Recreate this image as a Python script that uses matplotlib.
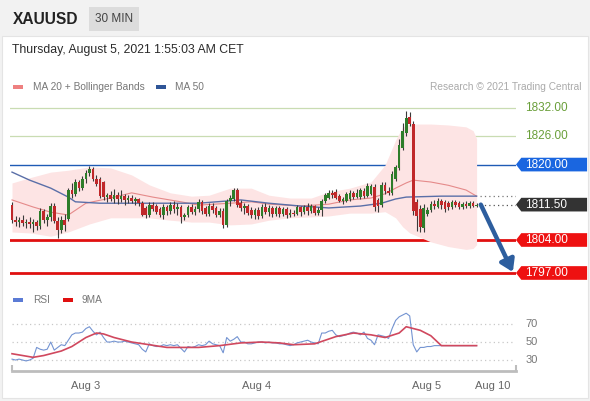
import matplotlib.pyplot as plt
from matplotlib.patches import Polygon, Rectangle
from matplotlib.transforms import blended_transform_factory
import numpy as np

plt.rcParams['font.family'] = ['Liberation Sans', 'DejaVu Sans']

# --- candle data (30 min bars) ---
opens = [1811.4, 1808.3, 1807.8, 1808.3, 1807.6, 1807.9, 1807.3, 1807.8, 1807.0, 1810.2,
         1808.2, 1808.8, 1811.2, 1808.0, 1806.2, 1808.3, 1808.5, 1814.5, 1813.8, 1816.3,
         1815.0, 1817.0, 1818.2, 1819.0, 1817.0, 1817.0, 1816.2, 1813.2, 1813.6, 1812.8,
         1813.5, 1812.6, 1813.3, 1812.5, 1813.0, 1812.3, 1812.8, 1811.8, 1810.8, 1809.2,
         1811.4, 1811.2, 1810.6, 1809.2, 1811.0, 1810.2, 1811.4, 1810.6, 1811.0, 1808.8,
         1809.3, 1811.0, 1810.0, 1810.6, 1812.0, 1810.8, 1809.5, 1811.3, 1810.8, 1809.3,
         1810.2, 1807.2, 1812.3, 1812.8, 1814.5, 1811.8, 1810.8, 1811.2, 1810.4, 1809.2,
         1810.4, 1809.0, 1811.0, 1810.0, 1810.8, 1809.5, 1810.7, 1809.6, 1810.5, 1809.3,
         1809.8, 1809.6, 1810.9, 1809.9, 1811.0, 1810.2, 1811.2, 1809.8, 1810.4, 1812.3,
         1813.0, 1814.0, 1814.2, 1813.4, 1812.3, 1812.3, 1812.6, 1814.0, 1813.2, 1813.2,
         1814.4, 1813.4, 1813.8, 1815.3, 1812.5, 1811.4, 1815.6, 1814.4, 1814.0, 1817.0,
         1819.3, 1823.5, 1826.7, 1830.0, 1828.6, 1812.0, 1810.6, 1806.6, 1809.5, 1810.4,
         1811.6, 1811.0, 1812.3, 1812.0, 1811.8, 1811.0, 1812.0, 1811.8, 1811.0, 1811.6,
         1811.2, 1811.8, 1811.3]
highs = [1812.0, 1809.0, 1808.8, 1809.2, 1808.5, 1808.8, 1808.5, 1808.3, 1810.8, 1810.6,
         1809.5, 1811.8, 1811.9, 1808.8, 1809.0, 1809.5, 1815.0, 1816.0, 1817.0, 1816.8,
         1817.5, 1818.8, 1819.6, 1819.4, 1817.8, 1817.3, 1816.5, 1814.0, 1814.3, 1814.8,
         1814.2, 1814.5, 1813.8, 1813.6, 1813.5, 1813.2, 1813.0, 1812.2, 1811.3, 1812.0,
         1812.0, 1811.6, 1811.0, 1811.6, 1811.5, 1812.0, 1812.2, 1811.8, 1811.5, 1809.8,
         1811.5, 1811.6, 1811.2, 1812.6, 1812.4, 1811.2, 1811.8, 1811.9, 1811.2, 1810.8,
         1810.8, 1812.8, 1813.6, 1815.0, 1815.0, 1812.5, 1811.8, 1811.6, 1810.9, 1810.8,
         1811.0, 1811.6, 1811.8, 1811.5, 1811.2, 1811.3, 1811.2, 1811.0, 1810.9, 1810.5,
         1810.3, 1811.4, 1811.2, 1811.5, 1811.8, 1811.6, 1811.5, 1811.0, 1812.8, 1814.0,
         1814.5, 1814.6, 1814.9, 1813.8, 1813.2, 1814.2, 1814.6, 1814.4, 1814.8, 1815.0,
         1815.0, 1816.0, 1815.8, 1815.8, 1813.0, 1816.3, 1816.2, 1815.2, 1818.6, 1820.0,
         1825.5, 1828.8, 1831.3, 1831.2, 1829.2, 1812.6, 1811.5, 1811.6, 1811.0, 1812.2,
         1812.4, 1813.0, 1812.8, 1812.4, 1812.2, 1812.4, 1812.4, 1812.3, 1812.0, 1812.2,
         1812.3, 1812.2, 1811.9]
lows = [1807.6, 1807.0, 1806.8, 1807.0, 1806.5, 1806.6, 1805.8, 1806.2, 1806.4, 1807.5,
        1807.0, 1808.0, 1807.5, 1804.4, 1805.5, 1806.0, 1808.0, 1813.0, 1813.3, 1814.3,
        1814.5, 1816.0, 1817.6, 1816.5, 1815.5, 1813.0, 1812.5, 1812.0, 1812.2, 1811.8,
        1811.6, 1812.0, 1811.5, 1811.8, 1811.8, 1811.4, 1811.2, 1809.0, 1808.6, 1808.8,
        1810.2, 1809.5, 1808.8, 1808.5, 1809.4, 1809.6, 1809.8, 1809.2, 1807.6, 1808.2,
        1808.8, 1809.5, 1809.3, 1810.0, 1809.6, 1809.0, 1809.0, 1809.8, 1808.8, 1808.8,
        1806.6, 1806.8, 1811.3, 1812.2, 1811.0, 1810.2, 1809.6, 1809.2, 1808.6, 1808.5,
        1808.4, 1808.6, 1809.5, 1809.0, 1808.8, 1809.0, 1808.9, 1809.1, 1808.6, 1808.8,
        1809.0, 1809.2, 1809.0, 1809.5, 1809.4, 1809.8, 1809.2, 1809.3, 1809.0, 1811.8,
        1812.6, 1813.0, 1812.6, 1812.0, 1811.6, 1812.0, 1812.2, 1812.8, 1812.9, 1812.8,
        1813.0, 1813.1, 1813.5, 1810.2, 1810.0, 1811.0, 1813.8, 1813.6, 1813.6, 1816.6,
        1818.8, 1823.0, 1826.0, 1828.2, 1809.4, 1806.0, 1805.8, 1805.8, 1809.0, 1810.0,
        1810.6, 1810.8, 1810.6, 1810.0, 1810.4, 1810.5, 1811.0, 1810.5, 1810.6, 1810.8,
        1810.8, 1811.0, 1810.9]
closes = [1808.3, 1807.8, 1808.3, 1807.6, 1807.9, 1807.3, 1807.8, 1807.0, 1810.2, 1808.2,
          1808.8, 1811.2, 1808.0, 1806.2, 1808.3, 1807.2, 1814.5, 1813.8, 1816.3, 1815.0,
          1817.0, 1818.2, 1819.0, 1817.0, 1815.8, 1813.4, 1813.2, 1813.6, 1812.8, 1813.5,
          1812.6, 1813.3, 1812.5, 1813.0, 1812.3, 1812.8, 1811.8, 1809.4, 1809.2, 1811.4,
          1810.6, 1810.0, 1809.2, 1811.0, 1810.2, 1811.4, 1810.6, 1811.0, 1808.8, 1809.3,
          1811.0, 1810.0, 1810.6, 1812.0, 1810.2, 1809.5, 1811.3, 1810.3, 1809.3, 1810.2,
          1807.2, 1812.3, 1813.0, 1814.5, 1811.5, 1810.8, 1811.2, 1809.8, 1809.2, 1810.4,
          1809.0, 1811.0, 1810.0, 1810.8, 1809.5, 1810.7, 1809.6, 1810.5, 1809.3, 1809.8,
          1809.6, 1810.9, 1809.9, 1811.0, 1810.2, 1811.2, 1809.8, 1810.4, 1812.3, 1813.6,
          1814.0, 1813.5, 1812.9, 1812.3, 1812.6, 1813.8, 1814.0, 1813.2, 1814.0, 1814.6,
          1813.4, 1815.5, 1815.4, 1811.0, 1811.2, 1815.6, 1814.4, 1814.0, 1818.0, 1819.5,
          1824.2, 1827.2, 1829.8, 1828.6, 1810.2, 1809.0, 1806.8, 1810.8, 1810.4, 1811.6,
          1811.2, 1812.3, 1811.4, 1810.5, 1811.0, 1812.0, 1811.4, 1811.0, 1811.6, 1811.2,
          1811.8, 1811.3, 1811.5]

# bollinger bands / moving averages (read at selected bars)
band_idx = [0, 5, 11, 16, 22, 28, 34, 39, 45, 51, 56, 62, 68, 73, 79, 85, 90, 96,
            102, 106, 109, 111, 113, 119, 124, 129, 131, 132]
band_upper = [1816.1, 1817.2, 1818.4, 1818.8, 1819.5, 1819.3, 1817.8, 1815.7, 1814.0,
              1813.3, 1813.5, 1815.0, 1815.0, 1813.5, 1812.9, 1812.9, 1814.2, 1815.0,
              1816.3, 1819.9, 1825.2, 1828.0, 1828.6, 1828.6, 1828.4, 1828.0, 1827.2, 1825.5]
band_lower = [1805.7, 1805.5, 1804.8, 1805.7, 1807.4, 1808.7, 1808.7, 1808.7, 1808.2,
              1807.8, 1807.8, 1807.2, 1807.4, 1808.2, 1808.7, 1808.9, 1809.1, 1809.7,
              1809.7, 1810.0, 1808.7, 1806.8, 1805.5, 1803.6, 1802.6, 1802.0, 1802.2, 1803.0]
ma20_idx = [0, 6, 11, 16, 21, 28, 34, 40, 48, 53, 62, 68, 73, 82, 90, 96, 102, 106,
            109, 112, 114, 119, 124, 129, 132]
ma20 = [1812.5, 1811.0, 1809.9, 1809.3, 1811.8, 1812.9, 1814.0, 1813.1, 1812.1, 1811.4,
        1811.8, 1812.1, 1811.6, 1811.2, 1811.6, 1812.5, 1812.9, 1813.8, 1815.0, 1816.1,
        1816.7, 1816.3, 1815.6, 1814.6, 1813.3]
ma50_idx = [0, 5, 11, 16, 18, 25, 36, 45, 53, 65, 73, 82, 90, 99, 105, 109, 112, 122, 132]
ma50 = [1818.4, 1816.7, 1815.0, 1813.1, 1812.1, 1811.8, 1811.8, 1811.8, 1811.8, 1812.5,
        1811.8, 1811.2, 1810.8, 1811.2, 1811.8, 1812.7, 1813.1, 1813.3, 1813.3]

# RSI panel
rsi = [31, 30, 31, 30, 29, 30, 32, 44, 42, 41,
       42, 50, 41, 44, 47, 46, 52, 58, 60, 60,
       61, 65, 67, 62, 58, 61, 55, 50, 50, 51,
       50, 50, 51, 50, 49, 48, 47, 42, 39, 48,
       46, 45, 45, 47, 46, 47, 46, 47, 43, 39,
       45, 44, 45, 47, 46, 47, 51, 48, 47, 46,
       38, 55, 51, 53, 56, 50, 50, 48, 48, 49,
       50, 50, 49, 50, 49, 49, 48, 48, 47, 46,
       47, 49, 50, 51, 52, 50, 49, 48, 60, 60,
       62, 63, 58, 56, 57, 58, 60, 61, 60, 58,
       61, 54, 52, 47, 58, 57, 56, 54, 65, 74,
       78, 80, 82, 79, 47, 39, 44, 44, 45, 45,
       46, 46, 46, 46, 46, 46, 46, 46, 46, 46,
       46, 46, 46]
ma9_idx = [0, 6, 9, 14, 17, 21, 24, 26, 29, 34, 39, 44, 53, 59, 65, 71, 76, 80, 86,
           92, 97, 102, 106, 110, 112, 116, 119, 122, 132]
ma9 = [37, 33, 35, 40, 45, 55, 60, 59, 55, 50, 47, 44, 44, 46, 49, 50, 49, 47, 48,
       56, 60, 58, 55, 60, 67, 63, 57, 46, 46]

levels_green = [1832.0, 1826.0]
level_blue = 1820.0
levels_red = [1804.0, 1797.0]
last_price = 1811.50
ma_level = 1813.3
target = 1797.2

day_ticks = [21, 69.6, 117.9, 136.6]
day_labels = ['Aug 3', 'Aug 4', 'Aug 5', 'Aug 10']

# --- figure ---
W, H = 590, 401
fig = plt.figure(figsize=(W / 100, H / 100), dpi=100, facecolor='#f2f2f2')

def fx(px):
    return px / W

def fy(py):
    return 1 - py / H

# white card behind everything
fig.patches.append(Rectangle((fx(2), fy(398)), fx(586), 362 / H, transform=fig.transFigure,
                             facecolor='white', edgecolor='#e4e4e4', lw=0.8, zorder=-5))
fig.patches.append(Rectangle((fx(89), fy(31)), fx(50), 24 / H, transform=fig.transFigure,
                             facecolor='#dcdcdc', edgecolor='none', zorder=-5))
fig.text(fx(13), fy(19), 'XAUUSD', fontsize=11.2, color='#222', va='center', fontweight='bold')
fig.text(fx(114), fy(19), '30 MIN', fontsize=8.5, color='#444', va='center', ha='center')
fig.text(fx(12), fy(50), 'Thursday, August 5, 2021 1:55:03 AM CET', fontsize=8.8,
         color='#2a2a2a', va='center')

# legends
fig.text(fx(33), fy(87), 'MA 20 + Bollinger Bands', fontsize=7.3, color='#777', va='center')
fig.text(fx(175), fy(87), 'MA 50', fontsize=7.3, color='#777', va='center')
fig.text(fx(582), fy(87), 'Research \u00a9 2021 Trading Central', fontsize=7.3,
         color='#aaa', va='center', ha='right')
fig.text(fx(33), fy(300), 'RSI', fontsize=7.3, color='#777', va='center')
fig.text(fx(82), fy(300), '9MA', fontsize=7.3, color='#777', va='center')
for x0, yy, col in [(13, 89, '#ee8080'), (156, 89, '#2f5597'),
                    (13, 302, '#5b7bd5'), (63, 302, '#e01010')]:
    fig.patches.append(Rectangle((fx(x0), fy(yy)), fx(10), 4 / H, transform=fig.transFigure,
                                 facecolor=col, edgecolor='none', zorder=-4))

# --- main price axes ---
ax = fig.add_axes([fx(10), fy(285), fx(506), 190 / H])
ax.set_xlim(-0.57, 143.2)
ax.set_ylim(1794.45, 1834.76)
ax.axis('off')

ax.fill_between(band_idx, band_lower, band_upper, color='#fde4e4', lw=0, zorder=1)
ax.plot(ma20_idx, ma20, color='#e58a8a', lw=0.8, zorder=2)
ax.plot(ma50_idx, ma50, color='#5a6fa8', lw=1.0, zorder=2)

for lv in levels_green:
    ax.axhline(lv, color='#c9dcb2', lw=0.9, zorder=0.5)
ax.axhline(level_blue, color='#1f5bb5', lw=1.0, zorder=0.5)
for lv in levels_red:
    ax.axhline(lv, color='#e01010', lw=2.0, zorder=0.5)
ax.axhline(last_price, xmin=0.929, xmax=1.0, color='#555', lw=0.9, ls=(0, (1, 2.5)))
ax.axhline(ma_level, xmin=0.929, xmax=1.0, color='#777', lw=0.9, ls=(0, (1, 2.5)))

# candles
idx = np.arange(len(closes))
o = np.array(opens)
c = np.array(closes)
up = c >= o
ccol = np.where(up, '#2e7d2a', '#c0282a')
ax.vlines(idx, lows, highs, color='#3a3a3a', lw=0.8, zorder=3)
body = np.maximum(np.abs(c - o), 0.15)
ax.bar(idx, body, bottom=np.minimum(o, c), width=0.75, color=ccol, zorder=4, lw=0)

# forecast arrow
ax.annotate('', xy=(142.3, target), xytext=(133.2, last_price),
            arrowprops=dict(arrowstyle='-|>,head_width=0.45,head_length=0.7',
                            color='#2d5e9e', lw=3.2, shrinkA=0, shrinkB=0), zorder=6)

# right-hand level labels
tr = blended_transform_factory(ax.transAxes, ax.transData)

def tag(price, text, face):
    h = 1.45
    pts = [(1.0, price), (1.0105, price + h), (1.1405, price + h),
           (1.1405, price - h), (1.0105, price - h)]
    ax.add_patch(Polygon(pts, closed=True, transform=tr, facecolor=face,
                         edgecolor='none', clip_on=False, zorder=7))
    ax.text(1.0185, price, text, transform=tr, color='white', fontsize=8.5,
            va='center', ha='left', clip_on=False, zorder=8)

for lv in levels_green:
    ax.text(1.0185, lv, f'{lv:.2f}', transform=tr, color='#6a9f3a', fontsize=8.5,
            va='center', ha='left', clip_on=False)
tag(level_blue, f'{level_blue:.2f}', '#1a66e0')
tag(last_price, f'{last_price:.2f}', '#333333')
for lv in levels_red:
    tag(lv, f'{lv:.2f}', '#ee1111')

# --- RSI axes ---
ax2 = fig.add_axes([fx(10), fy(371), fx(506), 71 / H])
ax2.patch.set_visible(False)
ax2.set_xlim(-0.57, 143.2)
ax2.set_ylim(17.8, 96.7)
for s in ['top', 'right', 'left']:
    ax2.spines[s].set_visible(False)
ax2.spines['bottom'].set_color('#bdbdbd')
ax2.spines['bottom'].set_linewidth(2)
ax2.spines['bottom'].set_bounds(0, 143.2)
ax2.set_yticks([])
for lv in [30, 50, 70]:
    ax2.axhline(lv, xmin=0.004, xmax=0.998, color='#c8c8c8', lw=0.9, ls=(0, (1, 2.5)))
    ax2.text(1.018, lv, str(lv), transform=blended_transform_factory(ax2.transAxes, ax2.transData),
             fontsize=8, color='#777', va='center', clip_on=False)
ax2.vlines([0, 143.2], 17.8, 24.5, color='#bdbdbd', lw=1.5, clip_on=False)
ax2.plot(idx, rsi, color='#7494d2', lw=0.8, zorder=3)
ax2.plot(ma9_idx, ma9, color='#d0485e', lw=1.2, zorder=4)
ax2.set_xticks(day_ticks)
ax2.set_xticklabels(day_labels, fontsize=8, color='#666')
ax2.tick_params(axis='x', length=0, pad=7.5)

fig.savefig('out.png', dpi=100, facecolor=fig.get_facecolor())
